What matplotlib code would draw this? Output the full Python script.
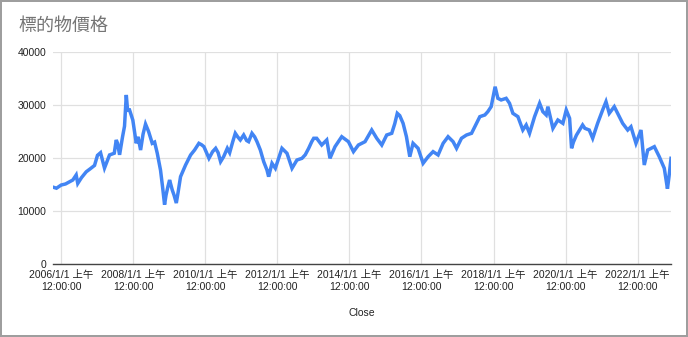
from matplotlib import pyplot as plt
import matplotlib.dates as mdates
import numpy as np
import pandas as pd

plt.rcParams['font.family'] = ['Liberation Sans', 'Noto Sans CJK TC', 'DejaVu Sans']

# Close price
dates = [
    '2005-10-10', '2005-11-14', '2006-01-01', '2006-02-14', '2006-03-26', '2006-04-29',
    '2006-06-02', '2006-06-18', '2006-07-26', '2006-09-12', '2006-10-25', '2006-12-05',
    '2007-01-04', '2007-02-04', '2007-03-16', '2007-05-06', '2007-06-23', '2007-07-13',
    '2007-07-26', '2007-08-16', '2007-09-15', '2007-10-05', '2007-10-23', '2007-11-05',
    '2007-11-25', '2007-12-28', '2008-02-01', '2008-02-19', '2008-03-16', '2008-04-10',
    '2008-05-05', '2008-06-05', '2008-07-12', '2008-08-05', '2008-09-01', '2008-10-04',
    '2008-10-25', '2008-11-14', '2008-11-29', '2008-12-18', '2009-01-04', '2009-01-31',
    '2009-02-18', '2009-03-13', '2009-03-31', '2009-04-25', '2009-06-15', '2009-08-05',
    '2009-09-14', '2009-10-28', '2009-11-24', '2009-12-18', '2010-01-14', '2010-02-07',
    '2010-03-16', '2010-04-16', '2010-05-11', '2010-06-05', '2010-07-06', '2010-08-12',
    '2010-09-05', '2010-10-05', '2010-11-01', '2010-11-25', '2010-12-22', '2011-01-25',
    '2011-02-24', '2011-03-16', '2011-04-19', '2011-05-16', '2011-06-09', '2011-07-13',
    '2011-08-16', '2011-09-18', '2011-10-05', '2011-11-08', '2011-12-12', '2012-01-15',
    '2012-02-17', '2012-04-08', '2012-05-29', '2012-07-18', '2012-09-07', '2012-10-10',
    '2012-11-14', '2012-12-15', '2013-01-04', '2013-02-03', '2013-03-26', '2013-05-16',
    '2013-06-18', '2013-08-08', '2013-10-15', '2013-12-22', '2014-02-11', '2014-04-02',
    '2014-06-08', '2014-08-15', '2014-10-05', '2014-11-25', '2015-01-14', '2015-03-06',
    '2015-04-06', '2015-05-01', '2015-05-26', '2015-06-29', '2015-08-02', '2015-09-05',
    '2015-10-08', '2015-11-28', '2016-01-18', '2016-03-09', '2016-04-28', '2016-06-18',
    '2016-08-08', '2016-09-27', '2016-11-17', '2016-12-22', '2017-02-10', '2017-04-02',
    '2017-05-23', '2017-06-25', '2017-08-15', '2017-10-05', '2017-11-04', '2017-12-08',
    '2018-01-17', '2018-02-14', '2018-03-19', '2018-05-09', '2018-06-12', '2018-07-16',
    '2018-09-05', '2018-10-25', '2018-11-28', '2019-01-01', '2019-02-21', '2019-04-13',
    '2019-05-16', '2019-06-19', '2019-07-06', '2019-08-26', '2019-10-15', '2019-12-05',
    '2020-01-08', '2020-02-11', '2020-03-02', '2020-03-21', '2020-04-20', '2020-06-22',
    '2020-07-15', '2020-08-28', '2020-10-02', '2020-11-21', '2021-01-11', '2021-02-14',
    '2021-03-19', '2021-05-09', '2021-06-12', '2021-08-02', '2021-09-22', '2021-10-25',
    '2021-12-15', '2022-02-04', '2022-03-09', '2022-04-13', '2022-06-19', '2022-08-08',
    '2022-09-28', '2022-10-30', '2022-11-15', '2022-12-05',
]
close = [
    14500, 14300, 14900, 15100, 15500, 15850,
    16800, 15200, 16300, 17400, 18000, 18600,
    20500, 21000, 18100, 20570, 20900, 23400,
    22800, 20600, 24000, 26000, 31900, 29000,
    29060, 27170, 22770, 24000, 21500, 24500,
    26400, 25000, 22770, 23000, 20890, 17700,
    14500, 11200, 13000, 14600, 15850, 13960,
    13000, 11500, 13500, 16480, 18680, 20570,
    21500, 22770, 22500, 22140, 21000, 19940,
    21200, 21830, 21000, 19310, 20250, 21830,
    21000, 23000, 24660, 24000, 23400, 24340,
    23300, 23080, 24660, 24000, 23080, 21500,
    19310, 17740, 16480, 19000, 18060, 20000,
    21830, 20890, 18060, 19620, 19940, 20600,
    21830, 23080, 23720, 23720, 22450, 23400,
    19940, 22140, 24020, 23080, 21200, 22450,
    23080, 25280, 23720, 22450, 24340, 24660,
    26500, 28430, 28000, 26540, 24020, 20250,
    22770, 21830, 19000, 20250, 21200, 20570,
    22770, 24020, 23080, 21830, 23720, 24340,
    24660, 25900, 27800, 28120, 28740, 29690,
    33450, 31260, 30950, 31260, 30320, 28430,
    27800, 25280, 26230, 24660, 27800, 30320,
    28740, 28120, 29690, 25600, 27170, 26540,
    29060, 27490, 21830, 23000, 24300, 26230,
    25600, 25280, 23720, 26540, 29060, 30630,
    28430, 29690, 28430, 26540, 25280, 25900,
    22770, 25280, 18680, 21500, 22140, 20250,
    18060, 14200, 16500, 19940,
]
tick_years = [2006, 2008, 2010, 2012, 2014, 2016, 2018, 2020, 2022]
y_ticks = [0, 10000, 20000, 30000, 40000]

df = pd.DataFrame({'date': pd.to_datetime(dates), 'close': close})

fig = plt.figure(figsize=(6.88, 3.37), dpi=100)
fig.patch.set_edgecolor('#9e9e9e')
fig.patch.set_linewidth(1.5)
ax = fig.add_axes([53 / 688, 73 / 337, 618 / 688, 212 / 337])

ax.plot(df['date'], df['close'], color='#4285f4', lw=2.5, solid_joinstyle='miter')

ax.set_xlim(df['date'].iloc[0], df['date'].iloc[-1])
ax.set_ylim(0, 40000)
ax.set_yticks(y_ticks)
ax.set_yticklabels([str(v) for v in y_ticks], fontsize=7.5, color='#222222')
tick_dates = [pd.Timestamp(f'{y}-01-01') for y in tick_years]
ax.set_xticks(tick_dates)
ax.set_xticklabels([f'{y}/1/1 上午\n12:00:00' for y in tick_years],
                   fontsize=7.5, color='#222222', linespacing=1.25)
ax.tick_params(axis='both', length=0)
ax.tick_params(axis='y', pad=5)
ax.tick_params(axis='x', pad=4)
ax.grid(True, color='#e0e0e0', lw=0.9)
ax.set_axisbelow(True)
for side in ['top', 'right', 'left']:
    ax.spines[side].set_visible(False)
ax.spines['bottom'].set_color('#444444')
ax.spines['bottom'].set_linewidth(1.0)

ax.set_xlabel('Close', fontsize=7.5, color='#222222', labelpad=12)
fig.text(18 / 688, 1 - 26 / 337, '標的物價格', fontsize=13, color='#757575',
         va='center', ha='left', family=['Noto Sans CJK TC', 'DejaVu Sans'])

plt.savefig('out.png', dpi=100)
